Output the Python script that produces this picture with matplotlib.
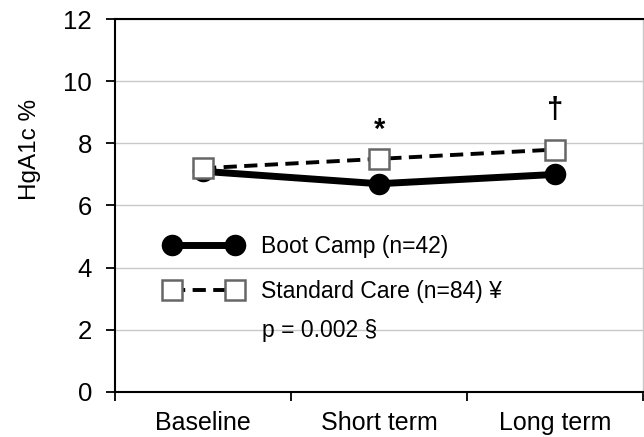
import matplotlib
matplotlib.use("Agg")
import matplotlib.pyplot as plt

# Data
periods = ["Baseline", "Short term", "Long term"]
boot_camp = [7.1, 6.7, 7.0]
standard_care = [7.2, 7.5, 7.8]
sig_marks = ["", "*", "\u2020"]

plt.rcParams['font.family'] = ['Liberation Sans', 'DejaVu Sans']

fig = plt.figure(figsize=(6.44, 4.37), dpi=100)
ax = fig.add_axes([0.1786, 0.103, 0.82, 0.8535])

xs = [i + 0.5 for i in range(len(periods))]

# Standard care (dashed, open squares)
ax.plot(xs, standard_care, color='black', lw=2.8, ls=(0, (3.4, 1.9)),
        marker='s', ms=14, mfc='white', mec='#666666', mew=1.8,
        label='Standard Care (n=84) \u00a5', zorder=3)
# Boot camp (solid, filled circles)
ax.plot(xs, boot_camp, color='black', lw=5, marker='o', ms=14.5,
        label='Boot Camp (n=42)', zorder=2)

# significance markers above the standard care series
offsets = {"*": 0.93, "\u2020": 1.28}
for x, y, m in zip(xs, standard_care, sig_marks):
    if m:
        ax.text(x, y + offsets[m], m, ha='center', va='center',
                fontsize=21, fontweight='bold')

ax.set_xlim(0, 3)
ax.set_ylim(0, 12)
ax.set_yticks(range(0, 13, 2))
ax.set_xticks([0, 1, 2, 3])
ax.set_xticklabels([])
ax.set_xticks(xs, minor=True)
ax.set_xticklabels(periods, minor=True, fontsize=18)
ax.tick_params(axis='x', which='minor', length=0, pad=14)
ax.tick_params(axis='x', which='major', length=6.5, width=1.3, direction='out')
ax.tick_params(axis='y', labelsize=18.5, length=6.5, width=1.3, pad=10)

ax.grid(axis='y', color='#c8c8c8', lw=1)
ax.set_axisbelow(True)
for side in ['left', 'bottom', 'top']:
    ax.spines[side].set_linewidth(1.5)
ax.spines['right'].set_color('#c8c8c8')
ax.spines['right'].set_linewidth(1)

ax.set_ylabel("HgA1c %", fontsize=17.5)
ax.yaxis.set_label_coords(-0.14, 0.65)

handles, labels = ax.get_legend_handles_labels()
leg = ax.legend(handles[::-1], labels[::-1], loc='upper left',
                bbox_to_anchor=(0.095, 0.42), frameon=False, fontsize=16.5,
                numpoints=2, handlelength=3.35, labelspacing=0.95,
                handletextpad=0.85, borderpad=0, borderaxespad=0)

ax.text(0.278, 0.166, "p = 0.002 \u00a7", transform=ax.transAxes,
        fontsize=16.5, va='center')

fig.savefig("out.png", dpi=100)
